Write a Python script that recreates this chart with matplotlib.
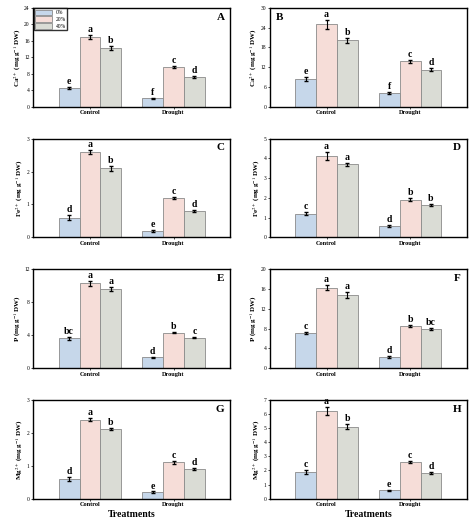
import numpy as np
import matplotlib.pyplot as plt

plt.rcParams['font.family'] = ['Liberation Serif', 'DejaVu Serif']
plt.rcParams['mathtext.fontset'] = 'stix'

groups = ['Control', 'Drought']
levels = ['0%', '20%', '40%']
colors = ['#c6d7ea', '#f6ddd8', '#dadcd5']

panels = ['A', 'B', 'C', 'D', 'E', 'F', 'G', 'H']
ylabels = [r'Ca$^{2+}$ (mg g$^{-1}$ DW)', r'Ca$^{2+}$ (mg g$^{-1}$ DW)',
           r'Fe$^{2+}$ (mg g$^{-1}$ DW)', r'Fe$^{2+}$ (mg g$^{-1}$ DW)',
           r'P (mg g$^{-1}$ DW)', r'P (mg g$^{-1}$ DW)',
           r'Mg$^{2+}$ (mg g$^{-1}$ DW)', r'Mg$^{2+}$ (mg g$^{-1}$ DW)']
# values[panel][level] = [Control, Drought]
values = [
    [[4.6, 2.1], [17.0, 9.7], [14.2, 7.3]],
    [[8.5, 4.1], [25.0, 13.8], [20.2, 11.3]],
    [[0.6, 0.2], [2.6, 1.2], [2.1, 0.8]],
    [[1.2, 0.6], [4.1, 1.9], [3.7, 1.65]],
    [[3.6, 1.3], [10.3, 4.3], [9.6, 3.7]],
    [[7.0, 2.2], [16.2, 8.6], [14.8, 8.0]],
    [[0.6, 0.2], [2.4, 1.1], [2.1, 0.9]],
    [[1.9, 0.6], [6.2, 2.6], [5.1, 1.8]],
]
errors = [
    [[0.2, 0.1], [0.5, 0.3], [0.5, 0.2]],
    [[0.6, 0.3], [1.4, 0.4], [0.8, 0.4]],
    [[0.08, 0.03], [0.06, 0.04], [0.07, 0.03]],
    [[0.08, 0.05], [0.2, 0.07], [0.08, 0.04]],
    [[0.2, 0.08], [0.3, 0.1], [0.2, 0.1]],
    [[0.2, 0.15], [0.5, 0.2], [0.6, 0.2]],
    [[0.05, 0.02], [0.04, 0.04], [0.03, 0.04]],
    [[0.15, 0.05], [0.3, 0.08], [0.18, 0.06]],
]
letters = [
    [['e', 'f'], ['a', 'c'], ['b', 'd']],
    [['e', 'f'], ['a', 'c'], ['b', 'd']],
    [['d', 'e'], ['a', 'c'], ['b', 'd']],
    [['c', 'd'], ['a', 'b'], ['a', 'b']],
    [['bc', 'd'], ['a', 'b'], ['a', 'c']],
    [['c', 'd'], ['a', 'b'], ['a', 'bc']],
    [['d', 'e'], ['a', 'c'], ['b', 'd']],
    [['c', 'e'], ['a', 'c'], ['b', 'd']],
]
ylims = [24, 30, 3, 5, 12, 20, 3, 7]
ysteps = [4, 6, 1, 1, 4, 4, 1, 1]

fig, axes = plt.subplots(4, 2, figsize=(4.74, 5.25), dpi=100)
x = np.arange(len(groups))
w = 0.25
for i, ax in enumerate(axes.flat):
    top = ylims[i]
    for j in range(3):
        xs = x + (j - 1) * w
        ax.bar(xs, values[i][j], w, color=colors[j], edgecolor='#8a8a8a',
               linewidth=0.6, label=levels[j])
        ax.errorbar(xs, values[i][j], yerr=errors[i][j], fmt='none',
                    ecolor='black', elinewidth=0.8, capsize=1.2)
        for k in range(2):
            ax.text(xs[k], values[i][j][k] + errors[i][j][k] + top * 0.01,
                    letters[i][j][k], ha='center', va='bottom',
                    fontsize=7, fontweight='bold')
    ax.set_ylim(0, top)
    ax.set_yticks(np.arange(0, top + 0.01, ysteps[i]))
    ax.set_xlim(-0.68, 1.68)
    ax.set_xticks(x)
    ax.set_xticklabels(groups, fontsize=4.5, fontweight='bold')
    ax.tick_params(axis='y', labelsize=4, length=1.5, width=0.5, pad=1)
    ax.tick_params(axis='x', length=1.5, width=0.5, pad=1)
    ax.set_ylabel(ylabels[i], fontsize=5, fontweight='bold', labelpad=1)
    for s in ax.spines.values():
        s.set_linewidth(1.0)
    if i == 1:
        ax.text(0.03, 0.95, panels[i], transform=ax.transAxes, ha='left',
                va='top', fontsize=8, fontweight='bold')
    else:
        ax.text(0.97, 0.95, panels[i], transform=ax.transAxes, ha='right',
                va='top', fontsize=8, fontweight='bold')
    if i == 0:
        leg = ax.legend(loc='upper left', fontsize=4, frameon=True,
                        fancybox=False, edgecolor='black', handlelength=3.0,
                        handleheight=1.2, borderpad=0.2, labelspacing=0.2,
                        borderaxespad=0.1)
        leg.get_frame().set_linewidth(1.0)
    if i >= 6:
        ax.set_xlabel('Treatments', fontsize=7, fontweight='bold', labelpad=2)

plt.subplots_adjust(left=0.07, right=0.985, top=0.985, bottom=0.05,
                    wspace=0.2, hspace=0.32)
fig.savefig('out.png', dpi=100)
